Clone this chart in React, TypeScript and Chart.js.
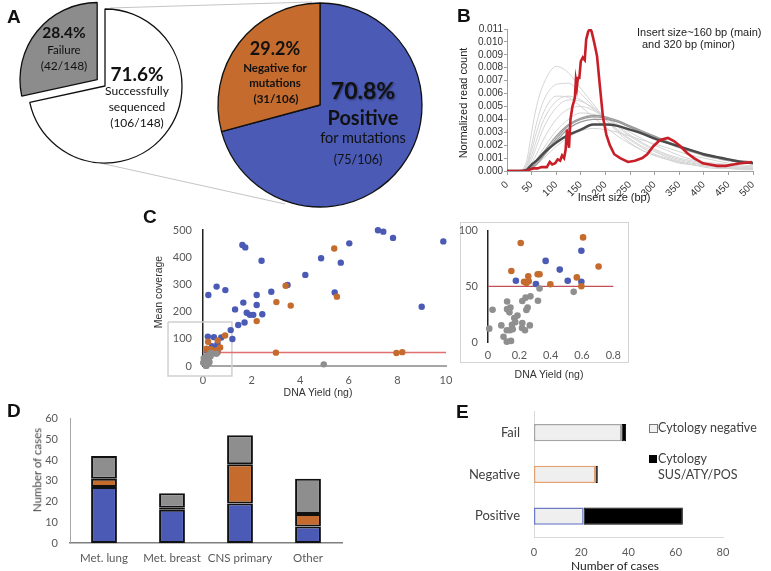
import React, { useEffect, useRef } from "react";
import { Chart, registerables } from "chart.js";
Chart.register(...registerables);

const LATO = "Lato, 'Open Sans', sans-serif";
const ARIAL = "'Liberation Sans', Arial, sans-serif";
const BLUE = "#4a5ab5";
const ORANGE = "#c46b2d";
const GRAY = "#8e8e8e";

// ---------- A: pies ----------
const pieALabels = ["Successfully sequenced", "Failure"];
const pieAValues = [71.6, 28.4];
const pieBLabels = ["Positive for mutations", "Negative for mutations"];
const pieBValues = [70.8, 29.2];

// ---------- B: insert size distributions ----------
const insertSizes = [0, 25, 40, 50, 60, 75, 100, 125, 150, 175, 200, 225, 250, 275, 300, 325, 350, 375, 400, 425, 450, 475, 500];
const lightCurves = [
  [0, 0, 0.0008, 0.003, 0.005, 0.0068, 0.0081, 0.0076, 0.0064, 0.0052, 0.004, 0.003, 0.0022, 0.0016, 0.0012, 0.0009, 0.0006, 0.0005, 0.0003, 0.0002, 0.0002, 0.0001, 0.0001],
  [0, 0, 0.0005, 0.002, 0.0037, 0.0055, 0.0067, 0.0068, 0.006, 0.005, 0.004, 0.0031, 0.0024, 0.0018, 0.0013, 0.001, 0.0007, 0.0005, 0.0004, 0.0003, 0.0002, 0.0002, 0.0001],
  [0, 0, 0.0003, 0.0012, 0.0024, 0.004, 0.0054, 0.0058, 0.0055, 0.0048, 0.004, 0.0032, 0.0025, 0.0019, 0.0015, 0.0011, 0.0008, 0.0006, 0.0005, 0.0004, 0.0003, 0.0002, 0.0002],
  [0, 0, 0.0002, 0.0009, 0.0019, 0.0034, 0.0049, 0.0055, 0.0054, 0.0049, 0.0042, 0.0034, 0.0027, 0.0021, 0.0016, 0.0012, 0.0009, 0.0007, 0.0005, 0.0004, 0.0003, 0.0003, 0.0002],
  [0, 0, 0.0001, 0.0006, 0.0013, 0.0025, 0.004, 0.0048, 0.005, 0.0047, 0.0041, 0.0035, 0.0028, 0.0022, 0.0017, 0.0013, 0.001, 0.0008, 0.0006, 0.0005, 0.0004, 0.0003, 0.0003],
  [0, 0, 0.0001, 0.0004, 0.0009, 0.0018, 0.0031, 0.004, 0.0045, 0.0044, 0.0041, 0.0036, 0.003, 0.0025, 0.002, 0.0016, 0.0012, 0.0009, 0.0007, 0.0006, 0.0005, 0.0004, 0.0003],
  [0, 0, 0, 0.0002, 0.0005, 0.001, 0.0019, 0.0026, 0.0031, 0.0033, 0.0032, 0.003, 0.0027, 0.0024, 0.0021, 0.0018, 0.0015, 0.0012, 0.001, 0.0008, 0.0006, 0.0005, 0.0004],
  [0, 0, 0.0004, 0.0016, 0.003, 0.0046, 0.0058, 0.0057, 0.005, 0.0042, 0.0034, 0.0027, 0.0021, 0.0016, 0.0012, 0.0009, 0.0007, 0.0005, 0.0004, 0.0003, 0.0002, 0.0002, 0.0001],
];
const mediumCurves = [
  [0, 0, 0.0001, 0.0004, 0.0008, 0.0015, 0.0027, 0.0036, 0.0041, 0.0043, 0.0042, 0.0039, 0.0035, 0.0031, 0.0027, 0.0023, 0.0019, 0.0016, 0.0013, 0.0011, 0.0009, 0.0007, 0.0006],
  [0, 0, 0.0001, 0.0003, 0.0007, 0.0013, 0.0025, 0.0035, 0.004, 0.0042, 0.0041, 0.0038, 0.0034, 0.003, 0.0026, 0.0022, 0.0018, 0.0015, 0.0012, 0.001, 0.0008, 0.0007, 0.0006],
  [0, 0, 0, 0.0002, 0.0005, 0.0012, 0.0023, 0.0033, 0.0038, 0.004, 0.004, 0.0038, 0.0034, 0.003, 0.0026, 0.0022, 0.0019, 0.0016, 0.0013, 0.0011, 0.0009, 0.0008, 0.0007],
];
const darkCurve = [0, 0, 0.0001, 0.0005, 0.0008, 0.0014, 0.0022, 0.0028, 0.0032, 0.0036, 0.0036, 0.0035, 0.0032, 0.0029, 0.0025, 0.0022, 0.0019, 0.0016, 0.0013, 0.0011, 0.0009, 0.0007, 0.0006];
const redCurve: [number, number][] = [
  [0, 0], [37, 0], [45, 0.0001], [53, 0.0002], [62, 0.0002], [70, 0.0003], [81, 0.0003], [87, 0.0007], [92, 0.0005],
  [98, 0.0006], [103, 0.0009], [108, 0.0008], [112, 0.0012], [116, 0.001], [119, 0.0016], [122, 0.0032], [124, 0.0024],
  [126, 0.0018], [129, 0.004], [133, 0.005], [136, 0.0054], [138, 0.0057], [140, 0.007], [142, 0.0065], [144, 0.0072],
  [147, 0.0072], [150, 0.0085], [154, 0.0088], [158, 0.0086], [161, 0.0102], [165, 0.0108], [169, 0.011], [172, 0.0108],
  [177, 0.01], [183, 0.0089], [189, 0.0065], [195, 0.0042], [202, 0.0028], [209, 0.002], [218, 0.0013], [230, 0.001],
  [246, 0.0007], [260, 0.0008], [275, 0.001], [285, 0.0013], [297, 0.0019], [311, 0.0024], [327, 0.00256], [340, 0.0023],
  [353, 0.0019], [366, 0.0014], [380, 0.001], [398, 0.0006], [412, 0.0005], [427, 0.0004], [445, 0.0004], [460, 0.0005],
  [474, 0.0006], [498, 0.0007],
];

// ---------- C: DNA yield vs mean coverage ----------
const bluePointsHigh: [number, number][] = [
  [0.22, 261], [0.56, 292], [0.92, 279], [1.62, 445], [1.74, 436], [2.41, 387], [1.32, 208], [1.66, 233], [2.21, 261],
  [2.21, 224], [1.8, 196], [1.93, 188], [2.07, 188], [2.44, 190], [1.71, 160], [1.45, 151], [1.14, 132], [1.21, 99],
  [2.81, 273], [3.48, 298], [4.21, 335], [4.86, 396], [5.67, 380], [6.02, 451], [5.42, 270], [7.2, 499], [7.42, 494],
  [7.82, 471], [9.0, 218], [9.89, 458], [0.2, 108], [0.45, 106], [0.75, 105],
];
const orangePointsHigh: [number, number][] = [
  [5.4, 432], [3.4, 295], [5.51, 255], [3.02, 235], [3.61, 222], [2.21, 165], [0.91, 112], [3.0, 49], [7.96, 48], [8.2, 51],
];
const grayPointsHigh: [number, number][] = [[4.97, 6]];
const bluePointsLow: [number, number][] = [
  [0.368, 72.8], [0.458, 65], [0.596, 81.9], [0.178, 55], [0.306, 52], [0.509, 55], [0.596, 54],
];
const orangePointsLow: [number, number][] = [
  [0.209, 88.9], [0.607, 93.9], [0.706, 67.8], [0.149, 63.7], [0.257, 59], [0.317, 60.8], [0.329, 60.8],
  [0.23, 54], [0.245, 53], [0.26, 54.5], [0.398, 51.8], [0.567, 58], [0.596, 50],
];
const grayPointsLow: [number, number][] = [
  [0.329, 48], [0.547, 45], [0.319, 37], [0.271, 41], [0.24, 39.8], [0.219, 36.8], [0.253, 31], [0.245, 28.7],
  [0.122, 36.3], [0.143, 31], [0.122, 29.5], [0.137, 26.6], [0.029, 29], [0.008, 12], [0.188, 23.7], [0.168, 21.6],
  [0.174, 17.8], [0.153, 15.5], [0.085, 14.9], [0.219, 17], [0.217, 12.6], [0.236, 10.5], [0.267, 14.9], [0.14, 10.5],
  [0.12, 10.5], [0.099, 4.7], [0.12, 0.3], [0.147, 1], [0.158, 11.5],
];
const coverageThresholdMain: [number, number][] = [[0, 50], [10, 50]];
const coverageThresholdInset: [number, number][] = [[0, 50], [0.8, 50]];
const zoomBox: [number, number][] = [[-1.44, 162], [1.19, 162], [1.19, -37], [-1.44, -37], [-1.44, 162]];

// ---------- D: tumour types ----------
const tumorTypes = ["Met. lung", "Met. breast", "CNS primary", "Other"];
const dPositive = [27, 16, 19, 8];
const dNegative = [4, 1, 19, 6];
const dFailure = [11, 7, 14, 17];

// ---------- E: cytology ----------
const eCategories = ["Fail", "Negative", "Positive"];
const eCytoNegative = [37, 26, 21];
const eCytoPositive = [2, 1, 42];

const pts = (arr: [number, number][]) => arr.map(([x, y]) => ({ x, y }));
const fixW = (w: number) => (s: any) => { s.width = w; };
const fixH = (h: number) => (s: any) => { s.height = h; };
const base = { animation: false, responsive: false, plugins: { legend: { display: false }, tooltip: { enabled: false } } };
const noGrid = { display: false, drawTicks: false };

function ChartCanvas({ left, top, width, height, make }: any) {
  const ref = useRef<HTMLCanvasElement>(null);
  useEffect(() => {
    const chart = new Chart(ref.current as HTMLCanvasElement, make());
    return () => chart.destroy();
  }, []);
  return <canvas ref={ref} width={width} height={height} style={{ position: "absolute", left, top, width, height }} />;
}

function T({ x, y, children, size = 12, weight = 400, family = LATO, color = "#111", anchor = "center", rotate = 0, shadow }: any) {
  const tx = anchor === "center" ? "-50%" : anchor === "left" ? "0" : "-100%";
  return (
    <div style={{ position: "absolute", left: x, top: y, transform: `translate(${tx},-50%) rotate(${rotate}deg)`, fontSize: size, fontWeight: weight, fontFamily: family, color, whiteSpace: "nowrap", lineHeight: 1, textShadow: shadow }}>
      {children}
    </div>
  );
}

const pieA = () => ({
  type: "pie",
  data: { labels: pieALabels, datasets: [{ data: pieAValues, backgroundColor: ["#ffffff", "#8c8c8c"], borderColor: "#111", borderWidth: 1.3, offset: [0, 40], radius: 77 }] },
  options: { ...base, layout: { padding: 0 } },
});
const pieB = () => ({
  type: "pie",
  data: { labels: pieBLabels, datasets: [{ data: pieBValues, backgroundColor: [BLUE, ORANGE], borderColor: "#111", borderWidth: 1.3, radius: 102 }] },
  options: { ...base, layout: { padding: 0 } },
});

const lineChart = () => ({
  type: "line",
  data: {
    datasets: [
      { data: pts(redCurve), borderColor: "#c81e28", borderWidth: 2.6, pointRadius: 0, tension: 0 },
      { data: insertSizes.map((x, i) => ({ x, y: darkCurve[i] })), borderColor: "#4a4a4a", borderWidth: 2.4, pointRadius: 0, cubicInterpolationMode: "monotone" },
      ...mediumCurves.map((c) => ({ data: insertSizes.map((x, i) => ({ x, y: c[i] })), borderColor: "#9a9a9a", borderWidth: 1.3, pointRadius: 0, cubicInterpolationMode: "monotone" })),
      ...lightCurves.map((c) => ({ data: insertSizes.map((x, i) => ({ x, y: c[i] })), borderColor: "#d4d4d4", borderWidth: 1, pointRadius: 0, cubicInterpolationMode: "monotone" })),
    ],
  },
  options: {
    ...base,
    layout: { padding: { left: 0, top: 29, right: 18, bottom: 0 } },
    scales: {
      x: {
        type: "linear", min: 0, max: 500,
        ticks: { stepSize: 50, minRotation: 45, maxRotation: 45, autoSkip: false, padding: 4, color: "#333", font: { family: ARIAL, size: 10 } },
        grid: { drawOnChartArea: false, drawTicks: true, tickLength: 4, color: "#a0a0a0" },
        border: { color: "#a0a0a0", width: 1 },
        afterFit: fixH(34),
      },
      y: {
        min: 0, max: 0.011,
        ticks: { stepSize: 0.001, autoSkip: false, padding: 1, color: "#333", font: { family: ARIAL, size: 10 }, callback: (v: number) => v.toFixed(3) },
        grid: { drawOnChartArea: false, drawTicks: true, tickLength: 3, color: "#a0a0a0" },
        border: { color: "#a0a0a0", width: 1 },
        afterFit: fixW(67),
      },
    },
  },
});

const scatterMain = () => ({
  type: "scatter",
  data: {
    datasets: [
      { data: pts([...grayPointsHigh, ...grayPointsLow]), backgroundColor: "#8f8f8f", pointRadius: 3.2, borderWidth: 0, clip: false },
      { data: pts([...orangePointsHigh, ...orangePointsLow]), backgroundColor: ORANGE, pointRadius: 3.2, borderWidth: 0, clip: false },
      { data: pts([...bluePointsHigh, ...bluePointsLow]), backgroundColor: BLUE, pointRadius: 3.2, borderWidth: 0, clip: false },
      { data: pts(coverageThresholdMain), showLine: true, borderColor: "#e07070", borderWidth: 1.5, pointRadius: 0, clip: false },
      { data: pts(zoomBox), showLine: true, borderColor: "#d0d0d0", borderWidth: 1.5, pointRadius: 0, clip: false },
    ],
  },
  options: {
    ...base,
    layout: { padding: { left: 0, top: 30, right: 24, bottom: 0 } },
    scales: {
      x: {
        type: "linear", min: 0, max: 10,
        ticks: { stepSize: 2, padding: 8, color: "#595959", font: { family: LATO, size: 11 } },
        grid: noGrid,
        border: { color: "#a6a6a6", width: 2 },
        afterFit: fixH(34),
      },
      y: {
        min: 0, max: 500,
        ticks: { stepSize: 100, padding: 11, color: "#595959", font: { family: LATO, size: 11 } },
        grid: noGrid,
        border: { color: "#222", width: 1.5 },
        afterFit: fixW(63),
      },
    },
  },
});

const scatterInset = () => ({
  type: "scatter",
  data: {
    datasets: [
      { data: pts(grayPointsLow), backgroundColor: "#8f8f8f", pointRadius: 3.3, borderWidth: 0, clip: false },
      { data: pts(orangePointsLow), backgroundColor: ORANGE, pointRadius: 3.3, borderWidth: 0, clip: false },
      { data: pts(bluePointsLow), backgroundColor: BLUE, pointRadius: 3.3, borderWidth: 0, clip: false },
      { data: pts(coverageThresholdInset), showLine: true, borderColor: "#c0505a", borderWidth: 1.3, pointRadius: 0, clip: false },
    ],
  },
  options: {
    ...base,
    layout: { padding: { left: 0, top: 14, right: 11, bottom: 0 } },
    scales: {
      x: {
        type: "linear", min: 0, max: 0.8,
        ticks: { stepSize: 0.2, padding: 7, color: "#595959", font: { family: LATO, size: 11 } },
        grid: noGrid,
        border: { display: false },
        afterFit: fixH(24),
      },
      y: {
        min: 0, max: 100,
        ticks: { stepSize: 50, padding: 10, color: "#595959", font: { family: LATO, size: 11 } },
        grid: noGrid,
        border: { color: "#222", width: 1.5 },
        afterFit: fixW(36),
      },
    },
  },
});

const barD = () => ({
  type: "bar",
  data: {
    labels: tumorTypes,
    datasets: [
      { label: "Positive", data: dPositive, backgroundColor: BLUE },
      { label: "Negative", data: dNegative, backgroundColor: ORANGE },
      { label: "Failure", data: dFailure, backgroundColor: GRAY },
    ].map((d) => ({ ...d, borderColor: "#111", borderWidth: 2, borderSkipped: false, categoryPercentage: 1, barPercentage: 0.38 })),
  },
  options: {
    ...base,
    layout: { padding: { left: 0, top: 12, right: 8, bottom: 0 } },
    scales: {
      x: {
        stacked: true,
        ticks: { padding: 8, maxRotation: 0, minRotation: 0, autoSkip: false, color: "#595959", font: { family: LATO, size: 11.5 } },
        grid: noGrid,
        border: { color: "#7f7f7f", width: 1.5 },
        afterFit: fixH(28),
      },
      y: {
        stacked: true, min: 0, max: 60,
        ticks: { stepSize: 10, padding: 12, color: "#595959", font: { family: LATO, size: 11 } },
        grid: noGrid,
        border: { color: "#a6a6a6", width: 1 },
        afterFit: fixW(70),
      },
    },
  },
});

const barE = () => ({
  type: "bar",
  data: {
    labels: eCategories,
    datasets: [
      { label: "Cytology negative", data: eCytoNegative, backgroundColor: "#efefef", borderColor: ["#a5a5a5", "#e3a070", "#6b7bc4"], borderWidth: 1.5 },
      { label: "Cytology SUS/ATY/POS", data: eCytoPositive, backgroundColor: "#000", borderColor: "#000", borderWidth: 1 },
    ].map((d) => ({ ...d, borderSkipped: false, categoryPercentage: 1, barPercentage: 0.41 })),
  },
  options: {
    ...base,
    indexAxis: "y",
    layout: { padding: { left: 0, top: 8, right: 17, bottom: 0 } },
    scales: {
      x: {
        stacked: true, min: 0, max: 80,
        ticks: { stepSize: 20, padding: 9, maxRotation: 0, color: "#595959", font: { family: LATO, size: 11 } },
        grid: noGrid,
        border: { color: "#d9d9d9", width: 1 },
        afterFit: fixH(34),
      },
      y: {
        stacked: true,
        ticks: { padding: 14, color: "#404040", font: { family: LATO, size: 13 } },
        grid: noGrid,
        border: { color: "#d9d9d9", width: 1 },
        afterFit: fixW(74),
      },
    },
  },
});

export default function App() {
  return (
    <div style={{ position: "absolute", left: 0, top: 0, width: 771, height: 571, overflow: "hidden", background: "#fff" }}>
      <svg width={771} height={571} style={{ position: "absolute", left: 0, top: 0 }}>
        <line x1={110} y1={8} x2={312} y2={2} stroke="#c4c4c4" strokeWidth={1} />
        <line x1={100} y1={163} x2={285} y2={204} stroke="#c4c4c4" strokeWidth={1} />
      </svg>
      <div style={{ position: "absolute", left: 460, top: 222, width: 167, height: 139, border: "1.5px solid #d4d4d4" }} />

      <ChartCanvas left={15} top={0} width={180} height={172} make={pieA} />
      <ChartCanvas left={210} top={0} width={220} height={210} make={pieB} />
      <ChartCanvas left={440} top={0} width={331} height={205} make={lineChart} />
      <ChartCanvas left={140} top={200} width={330} height={200} make={scatterMain} />
      <ChartCanvas left={452} top={214} width={176} height={152} make={scatterInset} />
      <ChartCanvas left={0} top={400} width={350} height={171} make={barD} />
      <ChartCanvas left={460} top={390} width={280} height={181} make={barE} />

      {/* panel letters */}
      <T x={7} y={16} size={19} weight={700} family={ARIAL} anchor="left">A</T>
      <T x={457} y={15} size={19} weight={700} family={ARIAL} anchor="left">B</T>
      <T x={143} y={216} size={19} weight={700} family={ARIAL} anchor="left">C</T>
      <T x={7} y={410} size={19} weight={700} family={ARIAL} anchor="left">D</T>
      <T x={456} y={411} size={19} weight={700} family={ARIAL} anchor="left">E</T>

      {/* pie A texts */}
      <T x={64} y={33} size={15.5} weight={700}>28.4%</T>
      <T x={64} y={50} size={11.5}>Failure</T>
      <T x={64} y={66} size={12}>(42/148)</T>
      <T x={137} y={73} size={19} weight={700}>71.6%</T>
      <T x={137} y={91} size={12}>Successfully</T>
      <T x={137} y={107} size={12}>sequenced</T>
      <T x={137} y={123} size={12}>(106/148)</T>
      <T x={275} y={48} size={18} weight={700}>29.2%</T>
      <T x={275} y={68} size={11.5} weight={700}>Negative for</T>
      <T x={275} y={83} size={11.5} weight={700}>mutations</T>
      <T x={276} y={99} size={11.5} weight={700}>(31/106)</T>
      <T x={363} y={90} size={23} weight={700} shadow="1px 1px 2px rgba(0,0,0,0.45)">70.8%</T>
      <T x={363} y={117} size={20} weight={700}>Positive</T>
      <T x={363} y={138} size={14.5}>for mutations</T>
      <T x={358} y={160} size={12.5}>(75/106)</T>

      {/* B texts */}
      <T x={463} y={103} size={11} family={ARIAL} rotate={-90} color="#222">Normalized read count</T>
      <T x={614} y={197} size={11} family={ARIAL} color="#222">Insert size (bp)</T>
      <T x={637} y={32} size={11} family={ARIAL} anchor="left" color="#222">Insert size~160 bp (main)</T>
      <T x={642} y={44} size={11} family={ARIAL} anchor="left" color="#222">and 320 bp (minor)</T>

      {/* C texts */}
      <T x={158} y={292} size={10.5} family={ARIAL} rotate={-90} color="#333">Mean coverage</T>
      <T x={318} y={392} size={10.5} family={ARIAL} color="#333">DNA Yield (ng)</T>
      <T x={549} y={374} size={10.5} family={ARIAL} color="#333">DNA Yield (ng)</T>

      {/* D texts */}
      <T x={37} y={470} size={11.5} rotate={-90} color="#404040">Number of cases</T>

      {/* E texts */}
      <T x={615} y={566} size={12} color="#222">Number of cases</T>
      <div style={{ position: "absolute", left: 649, top: 424, width: 7, height: 7, border: "1px solid #777", background: "#f2f2f2" }} />
      <T x={658} y={428} size={12.5} anchor="left" color="#404040">Cytology negative</T>
      <div style={{ position: "absolute", left: 649, top: 455, width: 8, height: 8, background: "#000" }} />
      <T x={658} y={459} size={12.5} anchor="left" color="#404040">Cytology</T>
      <T x={658} y={475} size={12.5} anchor="left" color="#404040">SUS/ATY/POS</T>
    </div>
  );
}
